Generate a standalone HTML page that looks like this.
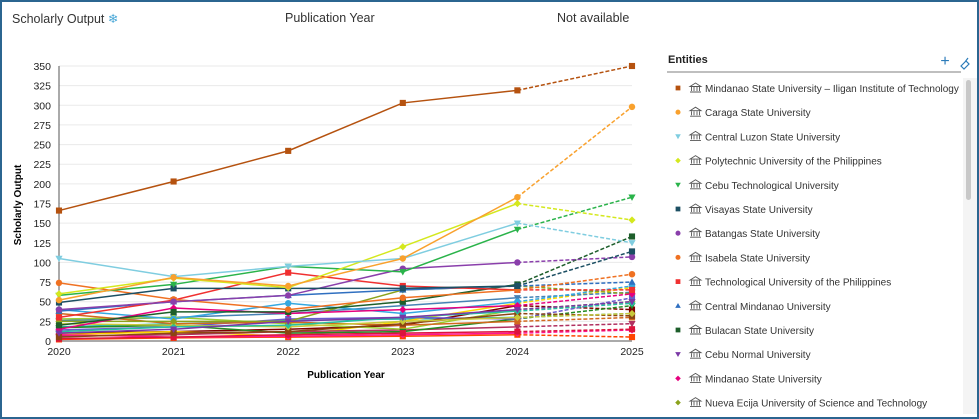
<!DOCTYPE html>
<html><head><meta charset="utf-8"><style>
body{margin:0;width:979px;height:419px;overflow:hidden;background:#fff;font-family:"Liberation Sans",sans-serif;}
#f{position:absolute;left:0;top:0;width:975px;height:415px;border:2px solid #2b6590;}
.t{position:absolute;top:11px;font-size:12.5px;color:#333;}
</style></head><body>
<div id="f"></div>
<div class="t" style="left:12px">Scholarly Output <span style="color:#4aa8d8">❄</span></div>
<div class="t" style="left:285px">Publication Year</div>
<div class="t" style="left:557px">Not available</div>
<svg id="s" width="979" height="419" style="position:absolute;left:0;top:0"></svg>
<script>
var s=document.getElementById('s'),h='';
function X(i){return 59+i*114.6}function Y(v){return 341-v*275/350}
for(var v=0;v<=350;v+=25){var y=Y(v);h+='<line x1="59" x2="632" y1="'+y+'" y2="'+y+'" stroke="#eaeaea"/>';h+='<text x="51" y="'+(y+4)+'" font-size="10.5" text-anchor="end" fill="#222">'+v+'</text>';}
for(var i=0;i<6;i++)h+='<text x="'+X(i)+'" y="355" font-size="10.5" text-anchor="middle" fill="#222">'+(2020+i)+'</text>';
h+='<line x1="59" x2="59" y1="66" y2="341" stroke="#555"/><line x1="59" x2="632" y1="341" y2="341" stroke="#555"/>';
h+='<text x="346" y="378" font-size="10" font-weight="bold" text-anchor="middle">Publication Year</text>';
h+='<text transform="translate(21,205) rotate(-90)" font-size="10" font-weight="bold" text-anchor="middle">Scholarly Output</text>';
var S=[
['#b5520f','s',[166,203,242,303,319,350],'Mindanao State University – Iligan Institute of Technology'],
['#f9a12d','c',[52,81,70,105,183,298],'Caraga State University'],
['#7fcde0','v',[105,82,95,105,150,125],'Central Luzon State University'],
['#d4e81e','d',[60,80,68,120,175,154],'Polytechnic University of the Philippines'],
['#2ab34a','v',[58,72,95,88,142,183],'Cebu Technological University'],
['#1c4f63','s',[49,67,67,67,70,114],'Visayas State University'],
['#8a3fab','c',[40,50,58,92,100,107],'Batangas State University'],
['#ef7122','c',[74,53,40,55,65,85],'Isabela State University'],
['#f03030','s',[30,52,87,70,65,65],'Technological University of the Philippines'],
['#2f6fc0','^',[38,50,58,65,70,75],'Central Mindanao University'],
['#1d5e2a','s',[20,37,37,50,72,133],'Bulacan State University'],
['#7a37a5','v',[10,15,25,30,40,50],'Cebu Normal University'],
['#e6007e','d',[15,42,35,40,45,60],'Mindanao State University'],
['#8ba21c','d',[25,25,25,65,70,60],'Nueva Ecija University of Science and Technology'],
['#35a8e0','c',[40,28,48,35,50,70],''],['#26c0a0','d',[12,18,20,30,38,48],''],
['#c8c83a','d',[22,20,18,25,30,35],''],['#8b4513','s',[5,10,12,22,35,32],''],
['#d2691e','s',[35,22,24,20,25,30],''],['#6a5acd','s',[14,18,28,30,28,55],''],
['#dc143c','s',[3,5,8,10,12,15],''],['#ff1493','d',[8,5,6,8,10,14],''],
['#228b22','v',[17,20,10,12,28,45],''],['#ff4500','s',[2,4,5,6,8,5],''],
['#9acd32','d',[28,30,22,15,40,50],''],['#b03060','v',[6,8,12,14,18,22],''],
['#4682b4','v',[26,30,35,45,55,62],''],['#ffd700','d',[8,12,6,25,48,68],''],
['#800000','s',[10,12,15,20,45,40],''],['#20b2aa','c',[18,22,26,28,30,35],'']];
function M(c,t,x,y,r){if(t=='s')return '<rect x="'+(x-r*0.85)+'" y="'+(y-r*0.85)+'" width="'+(r*1.7)+'" height="'+(r*1.7)+'" fill="'+c+'"/>';
if(t=='c')return '<circle cx="'+x+'" cy="'+y+'" r="'+(r*0.9)+'" fill="'+c+'"/>';
if(t=='d')return '<path d="M'+x+' '+(y-r)+'L'+(x+r)+' '+y+'L'+x+' '+(y+r)+'L'+(x-r)+' '+y+'Z" fill="'+c+'"/>';
if(t=='v')return '<path d="M'+(x-r)+' '+(y-r*0.75)+'L'+(x+r)+' '+(y-r*0.75)+'L'+x+' '+(y+r)+'Z" fill="'+c+'"/>';
return '<path d="M'+(x-r)+' '+(y+r*0.75)+'L'+(x+r)+' '+(y+r*0.75)+'L'+x+' '+(y-r)+'Z" fill="'+c+'"/>';}
for(var k=S.length-1;k>=0;k--){var a=S[k],d=a[2],p='';
for(var i=0;i<5;i++)p+=(i?'L':'M')+X(i)+' '+Y(d[i]);
h+='<path d="'+p+'" fill="none" stroke="'+a[0]+'" stroke-width="1.5"/>';
h+='<line x1="'+X(4)+'" y1="'+Y(d[4])+'" x2="'+X(5)+'" y2="'+Y(d[5])+'" stroke="'+a[0]+'" stroke-width="1.5" stroke-dasharray="4,2"/>';
for(var i=0;i<6;i++)h+=M(a[0],a[1],X(i),Y(d[i]),3.6);}
h+='<text x="668" y="63" font-size="11" font-weight="bold" fill="#222">Entities</text>';
h+='<line x1="667" x2="961" y1="72" y2="72" stroke="#999" stroke-width="1.2"/>';
h+='<text x="945" y="66" font-size="16" fill="#2b7bb9" text-anchor="middle">+</text>';
h+='<path d="M961 66l5-5 3 3-5 5z M968 58l-3 4" stroke="#2b7bb9" fill="none" stroke-width="1.2"/>';
h+='<rect x="963" y="78" width="14" height="336" fill="#f4f4f4"/><rect x="966" y="80" width="5" height="120" rx="2.5" fill="#c8c8c8"/>';
for(var k=0;k<14;k++){var y=88+k*24.2,a=S[k];
h+=M(a[0],a[1],678,y,2.8);
h+='<g stroke="#555" fill="none" stroke-width="0.9"><path d="M690 '+(y-1.5)+'L695.5 '+(y-5)+'L701 '+(y-1.5)+'Z"/><path d="M691.5 '+(y-1)+'V'+(y+3)+'M694 '+(y-1)+'V'+(y+3)+'M697 '+(y-1)+'V'+(y+3)+'M699.5 '+(y-1)+'V'+(y+3)+'M690 '+(y+4)+'H701"/></g>';
h+='<text x="705" y="'+(y+4)+'" font-size="10" fill="#333">'+a[3]+'</text>';}
s.innerHTML=h;
</script>
</body></html>
